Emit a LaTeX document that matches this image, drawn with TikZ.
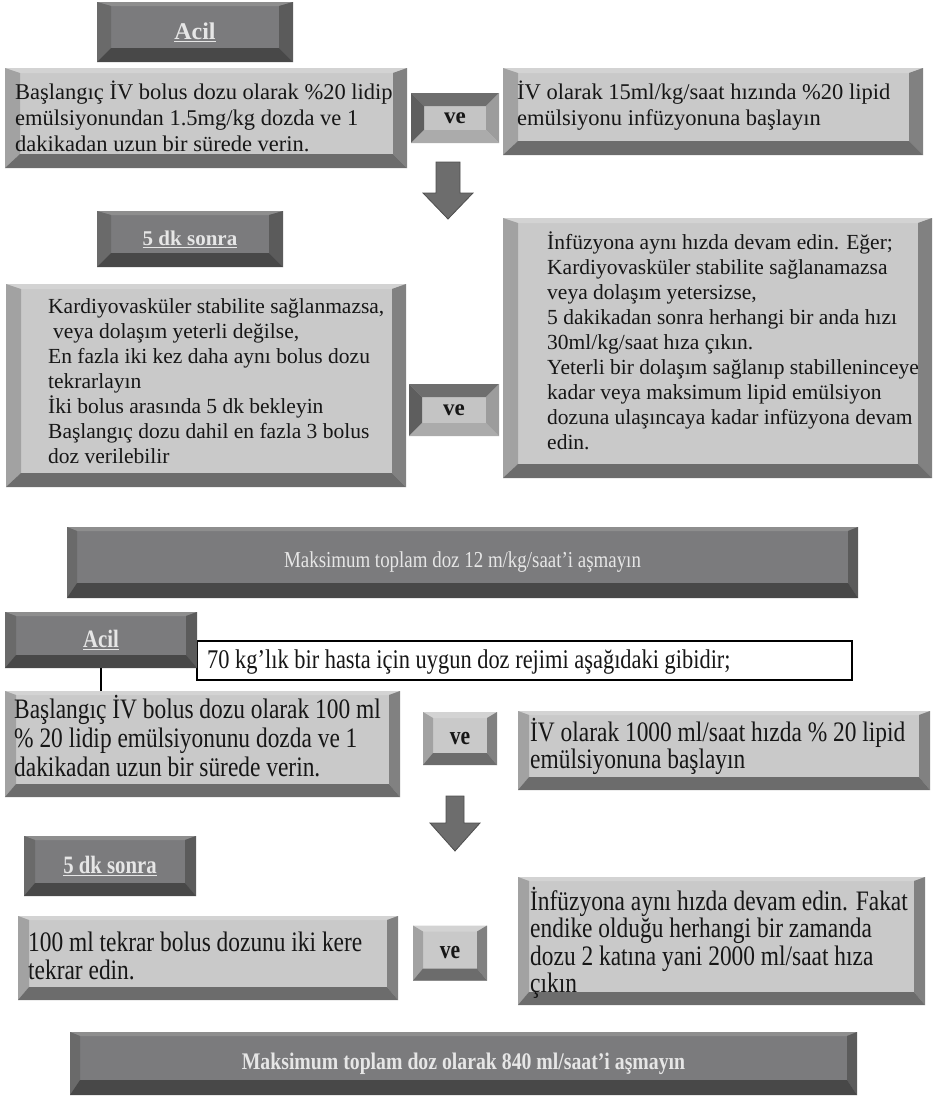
\documentclass[tikz,border=0pt]{standalone}
\usepackage{fontspec}
\setmainfont{Liberation Serif}
\newfontfamily\narrowfont{Liberation Serif}[FakeStretch=0.83]

\definecolor{facelight}{HTML}{C9C9C9}
\definecolor{toplight}{HTML}{D3D3D3}
\definecolor{leftlight}{HTML}{A2A2A2}
\definecolor{rightlight}{HTML}{818181}
\definecolor{bottomlight}{HTML}{6C6C6C}
\definecolor{facedark}{HTML}{7B7B7D}
\definecolor{topdark}{HTML}{8E8E8E}
\definecolor{leftdark}{HTML}{6A6A6A}
\definecolor{rightdark}{HTML}{5B5B5B}
\definecolor{bottomdark}{HTML}{484848}
\definecolor{veface}{HTML}{C4C4C4}
\definecolor{vetop}{HTML}{6E6E6E}
\definecolor{veleft}{HTML}{5E5E5E}
\definecolor{veright}{HTML}{9C9C9C}
\definecolor{vebottom}{HTML}{ABABAB}
\definecolor{titletext}{HTML}{E6E6E6}
\definecolor{inktext}{HTML}{161616}
\definecolor{arrowgrey}{HTML}{6D6D6D}
\definecolor{arrowedge}{HTML}{4E4E4E}

\tikzset{
  bevel/.style n args={4}{/utils/exec={\def\bvl{#1}\def\bvt{#2}\def\bvr{#3}\def\bvb{#4}}},
  bevel paint/.style n args={4}{path picture={
    \path (path picture bounding box.north west) coordinate (o1)
          (path picture bounding box.north east) coordinate (o2)
          (path picture bounding box.south east) coordinate (o3)
          (path picture bounding box.south west) coordinate (o4)
          ([shift={(\bvl,-\bvt)}]o1) coordinate (i1)
          ([shift={(-\bvr,-\bvt)}]o2) coordinate (i2)
          ([shift={(-\bvr,\bvb)}]o3) coordinate (i3)
          ([shift={(\bvl,\bvb)}]o4) coordinate (i4);
    \fill[#1] (o1) -- (o2) -- (i2) -- (i1) -- cycle;
    \fill[#2] (o1) -- (i1) -- (i4) -- (o4) -- cycle;
    \fill[#3] (o2) -- (o3) -- (i3) -- (i2) -- cycle;
    \fill[#4] (o4) -- (i4) -- (i3) -- (o3) -- cycle;
  }},
  lightbox/.style={rectangle, inner sep=0pt, fill=facelight, text=inktext,
    bevel={15pt}{5pt}{14pt}{14pt}, bevel paint={toplight}{leftlight}{rightlight}{bottomlight}},
  darkbox/.style={rectangle, inner sep=0pt, fill=facedark, text=titletext,
    bevel={14pt}{4pt}{14pt}{14pt}, bevel paint={topdark}{leftdark}{rightdark}{bottomdark}},
  maxbox/.style={darkbox, bevel={10pt}{4pt}{10pt}{15pt}},
  vebox/.style={rectangle, inner sep=0pt, fill=veface, text=inktext,
    font=\bfseries\fontsize{23}{23}\selectfont,
    bevel={13pt}{13pt}{13pt}{13pt}, bevel paint={vetop}{veleft}{veright}{vebottom}},
  bodytext/.style={anchor=west, align=left, inner sep=0pt, text=inktext},
  narrowtext/.style={bodytext, font=\narrowfont\fontsize{28.2}{27.5}\selectfont},
  thinbevel/.style={bevel={11pt}{4pt}{11pt}{13pt}},
}

\begin{document}
\begin{tikzpicture}[x=1pt, y=-1pt]
\useasboundingbox (0,0) rectangle (933,1101);

% dose per kg
\node[darkbox, minimum width=196, minimum height=60, font=\bfseries\fontsize{24}{24}\selectfont] (acil1) at (195,32) {\underline{Acil}};
\node[lightbox, minimum width=402, minimum height=100] (bolus1) at (206,118) {};
\node[bodytext, font=\fontsize{22.5}{26}\selectfont] (bolus1-t) at (15,116)
  {Başlangıç İV bolus dozu olarak \%20 lidip\\emülsiyonundan 1.5mg/kg dozda ve 1\\dakikadan uzun bir sürede verin.};
\node[vebox, minimum width=88, minimum height=50] (ve1) at (455,118) {ve};
\node[lightbox, minimum width=420, minimum height=87] (infuse1) at (713,111.5) {};
\node[bodytext, font=\fontsize{22.5}{26}\selectfont] (infuse1-t) at (517,106)
  {İV olarak 15ml/kg/saat hızında \%20 lipid\\emülsiyonu infüzyonuna başlayın};

\node[darkbox, minimum width=186, minimum height=56, font=\bfseries\fontsize{21}{21}\selectfont] (later1) at (190,239) {\underline{5 dk sonra}};
\node[lightbox, minimum width=400, minimum height=203] (repeat1) at (206,385.5) {};
\node[bodytext, font=\fontsize{21.5}{25}\selectfont] (repeat1-t) at (48,381)
  {Kardiyovasküler stabilite sağlanmazsa,\\\hspace*{5pt}veya dolaşım yeterli değilse,\\En fazla iki kez daha aynı bolus dozu\\tekrarlayın\\İki bolus arasında 5 dk bekleyin\\Başlangıç dozu dahil en fazla 3 bolus\\doz verilebilir};
\node[vebox, minimum width=90, minimum height=52] (ve2) at (454,410) {ve};
\node[lightbox, minimum width=429, minimum height=260] (keep1) at (717.5,348) {};
\node[bodytext, font=\fontsize{21.5}{25}\selectfont] (keep1-t) at (547,341)
  {İnfüzyona aynı hızda devam edin. Eğer;\\Kardiyovasküler stabilite sağlanamazsa\\veya dolaşım yetersizse,\\5 dakikadan sonra herhangi bir anda hızı\\30ml/kg/saat hıza çıkın.\\Yeterli bir dolaşım sağlanıp stabilleninceye\\kadar veya maksimum lipid emülsiyon\\dozuna ulaşıncaya kadar infüzyona devam\\edin.};

\node[maxbox, minimum width=791, minimum height=71, font=\narrowfont\fontsize{22.8}{22.8}\selectfont] (max1) at (462.5,562.5)
  {Maksimum toplam doz 12 m/kg/saat’i aşmayın};

% dose for 70 kg
\node[draw=black, line width=1.3pt, fill=white, inner sep=0pt, minimum width=655, minimum height=39] (patient) at (524.5,660.5) {};
\node[bodytext, font=\narrowfont\fontsize{27}{27}\selectfont] (patient-t) at (207,662)
  {70 kg’lık bir hasta için uygun doz rejimi aşağıdaki gibidir;};
\node[darkbox, thinbevel, minimum width=192, minimum height=56, font=\narrowfont\bfseries\fontsize{25}{25}\selectfont] (acil2) at (101,640) {\underline{Acil}};
\node[lightbox, thinbevel, minimum width=395, minimum height=106] (bolus2) at (202.5,744) {};
\draw[line width=1.3pt] (acil2.south) -- (acil2.south |- bolus2.north);
\node[narrowtext, font=\narrowfont\fontsize{28.2}{29}\selectfont] (bolus2-t) at (14,736)
  {Başlangıç İV bolus dozu olarak 100 ml\\\% 20 lidip emülsiyonunu dozda ve 1\\dakikadan uzun bir sürede verin.};
\node[lightbox, bevel={10pt}{6pt}{10pt}{12pt}, minimum width=74, minimum height=53, font=\narrowfont\bfseries\fontsize{26}{26}\selectfont] (ve3) at (460,738.5) {ve};
\node[lightbox, thinbevel, minimum width=412, minimum height=79] (infuse2) at (724,750.5) {};
\node[narrowtext] (infuse2-t) at (530,746.5)
  {İV olarak 1000 ml/saat hızda \% 20 lipid\\emülsiyonuna başlayın};

\node[darkbox, thinbevel, minimum width=172, minimum height=60, font=\narrowfont\bfseries\fontsize{25}{25}\selectfont] (later2) at (110,866) {\underline{5 dk sonra}};
\node[lightbox, thinbevel, minimum width=380, minimum height=84] (repeat2) at (208,958) {};
\node[narrowtext] (repeat2-t) at (28,956)
  {100 ml tekrar bolus dozunu iki kere\\tekrar edin.};
\node[lightbox, bevel={10pt}{6pt}{10pt}{12pt}, minimum width=74, minimum height=55, font=\narrowfont\bfseries\fontsize{26}{26}\selectfont] (ve4) at (450,953) {ve};
\node[lightbox, thinbevel, minimum width=407, minimum height=128] (keep2) at (721.5,941) {};
\node[narrowtext] (keep2-t) at (530,943)
  {İnfüzyona aynı hızda devam edin. Fakat\\endike olduğu herhangi bir zamanda\\dozu 2 katına yani 2000 ml/saat hıza\\çıkın};

\node[maxbox, minimum width=787, minimum height=63, font=\narrowfont\bfseries\fontsize{23.8}{23.8}\selectfont] (max2) at (463.5,1063.5)
  {Maksimum toplam doz olarak 840 ml/saat’i aşmayın};

% block arrows
\foreach \cx/\ytop/\yneck/\ytip/\sw in {448/162/193/219/12, 455/796/823/851/9}
  \filldraw[fill=arrowgrey, draw=arrowedge, line width=0.8pt]
    (\cx-\sw,\ytop) -- (\cx+\sw,\ytop) -- (\cx+\sw,\yneck) -- (\cx+25,\yneck)
    -- (\cx,\ytip) -- (\cx-25,\yneck) -- (\cx-\sw,\yneck) -- cycle;
\end{tikzpicture}
\end{document}
